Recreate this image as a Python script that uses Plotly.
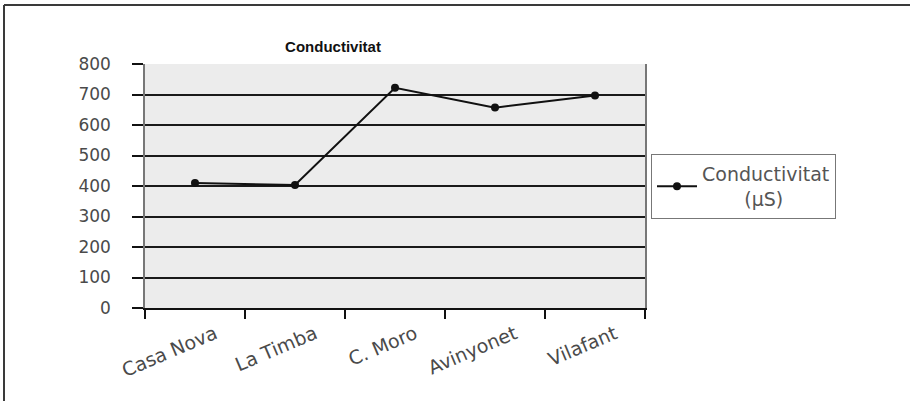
import plotly.graph_objects as go

# Sampling sites and measured conductivity (µS)
sites = ["Casa Nova", "La Timba", "C. Moro", "Avinyonet", "Vilafant"]
conductivity = [410, 403, 722, 657, 697]
y_ticks = [0, 100, 200, 300, 400, 500, 600, 700, 800]

W, H = 910, 401
L, R, T, B = 145, 265, 64, 93
PW, PH = W - L - R, H - T - B


def px_x(px):
    return (px - L) / PW


def px_y(py):
    return (H - B - py) / PH


fig = go.Figure()
fig.add_trace(go.Scatter(
    x=sites, y=conductivity, mode="lines+markers",
    name="Conductivitat<br>" + "\u00a0" * 7 + "(µS)",
    line=dict(color="#111111", width=2),
    marker=dict(color="#111111", size=8, symbol="circle"),
))

fig.update_layout(
    width=W, height=H,
    margin=dict(l=L, r=R, t=T, b=B),
    paper_bgcolor="white",
    plot_bgcolor="#ececec",
    title=dict(
        text="<b>Conductivitat</b>",
        font=dict(family="Liberation Sans", size=15, color="#111111"),
        x=px_x(333), xref="paper", xanchor="center",
        y=1 - 47 / H, yref="container", yanchor="middle",
    ),
    showlegend=True,
    legend=dict(
        x=px_x(651), y=px_y(154), xanchor="left", yanchor="top",
        bgcolor="white", bordercolor="#777777", borderwidth=1,
        font=dict(family="DejaVu Sans", size=19, color="#555555"),
        itemwidth=40,
    ),
    xaxis=dict(
        type="category", range=[-0.5, 4.5],
        tickson="boundaries", ticks="outside", ticklen=9, tickwidth=1.5,
        tickcolor="#111111", tickangle=-23,
        tickfont=dict(family="DejaVu Sans", size=19, color="#4a4a4a"),
        ticklabelshift=20, ticklabelstandoff=6,
        showgrid=False, showline=True, linecolor="#111111", linewidth=1.5,
        mirror=False, zeroline=False, fixedrange=True,
    ),
    yaxis=dict(
        range=[0, 800], tickvals=y_ticks, ticks="outside", ticklen=11,
        tickwidth=1.5, tickcolor="#111111",
        tickfont=dict(family="DejaVu Sans", size=17, color="#4a4a4a"),
        ticklabelstandoff=18,
        showgrid=True, gridcolor="#1a1a1a", gridwidth=1.5,
        showline=True, linecolor="#777777", linewidth=1.5, mirror=True,
        zeroline=False, fixedrange=True,
    ),
    shapes=[
        # outer frame of the chart area (top and left edges)
        dict(type="line", xref="paper", yref="paper",
             x0=px_x(4), x1=px_x(915), y0=px_y(5), y1=px_y(5),
             line=dict(color="#3a3a3a", width=2)),
        dict(type="line", xref="paper", yref="paper",
             x0=px_x(4), x1=px_x(4), y0=px_y(5), y1=px_y(405),
             line=dict(color="#3a3a3a", width=2)),
    ],
)

fig.write_html("out.html")
